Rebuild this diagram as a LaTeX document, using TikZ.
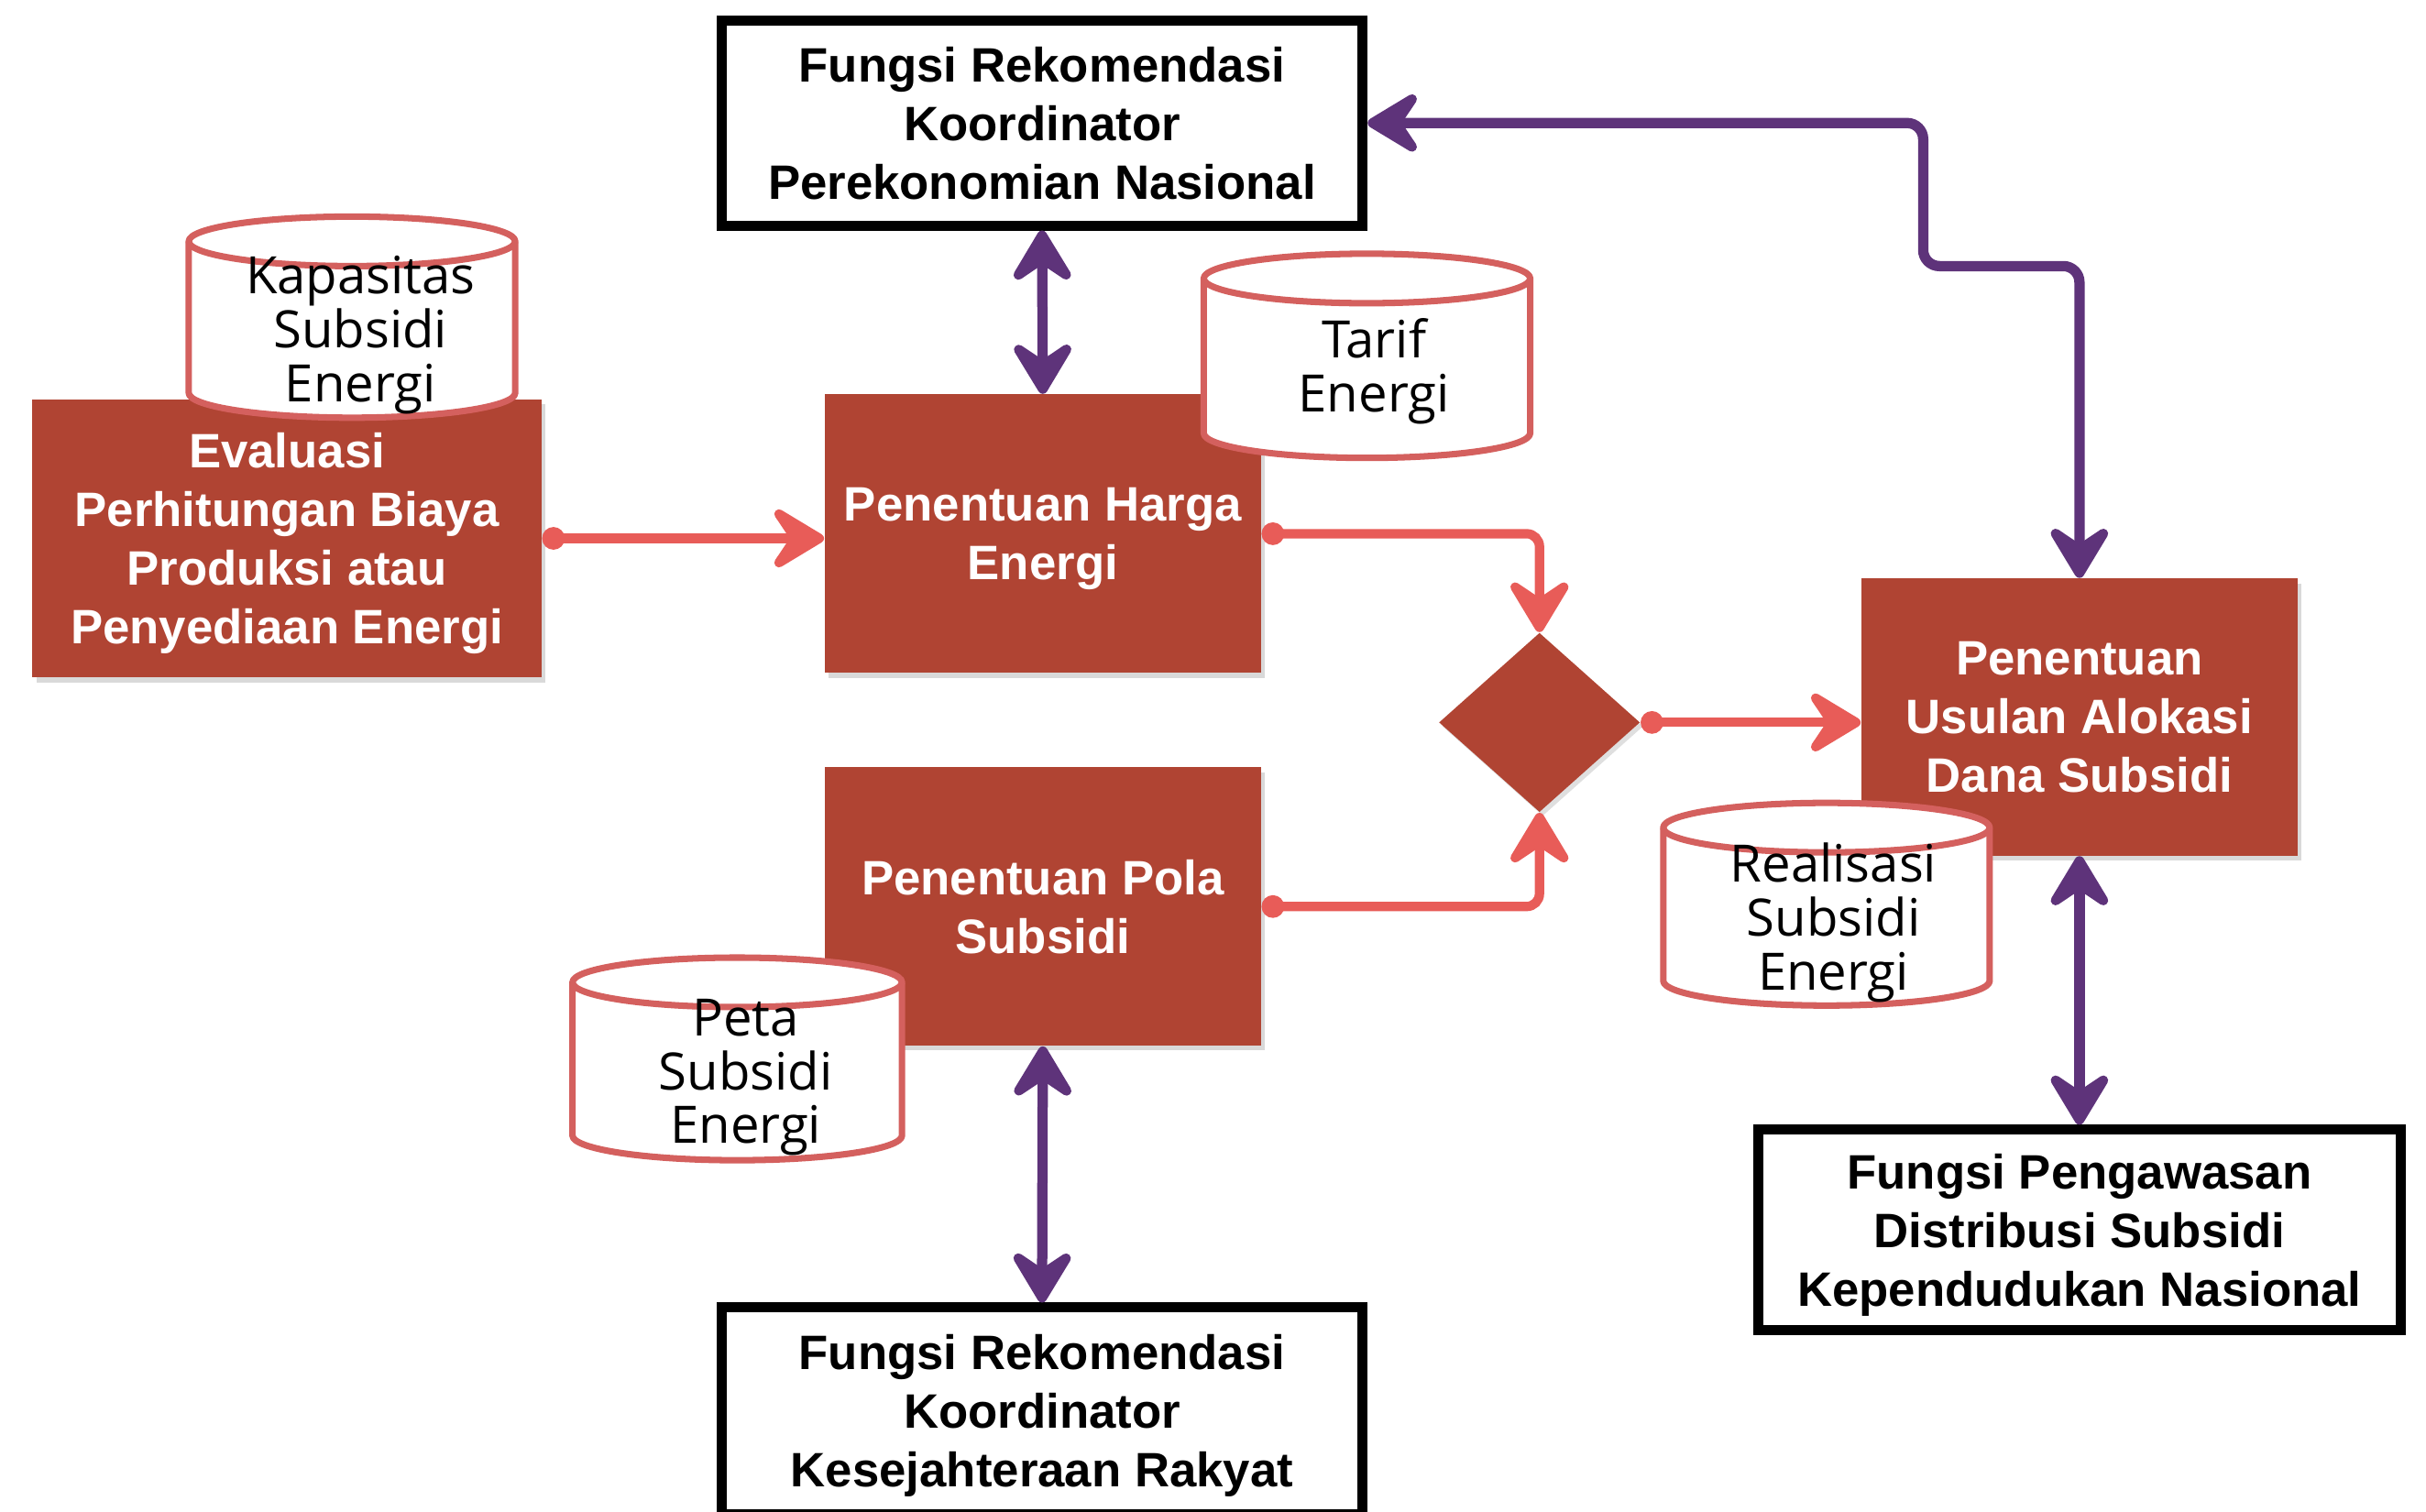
\documentclass[tikz,border=0pt]{standalone}
\usepackage{fontspec}
\newfontfamily\boxfont{Liberation Sans}
\newfontfamily\storefont{Open Sans}
\usetikzlibrary{arrows.meta,shapes.geometric,shadows}

\newdimen\pxu
\pxu=0.01688cm

\definecolor{brick}{RGB}{176,68,51}
\definecolor{storeline}{RGB}{212,96,94}
\definecolor{flowred}{RGB}{232,92,88}
\definecolor{flowpurple}{RGB}{94,51,122}

\tikzset{
  boxsize/.style 2 args={minimum width=#1*\pxu, minimum height=#2*\pxu},
  procbox/.style={rectangle, fill=brick, text=white, inner sep=0pt, align=center,
    text depth=-1pt,
    font=\boxfont\bfseries\fontsize{15}{18.2}\selectfont,
    drop shadow={shadow xshift=1.2pt, shadow yshift=-1.5pt, opacity=0.3}},
  funcbox/.style={rectangle, draw=black, fill=white, line width=3.1pt, inner sep=0pt,
    align=center, text=black, text depth=-1pt,
    font=\boxfont\bfseries\fontsize{15}{18.2}\selectfont,
    drop shadow={shadow xshift=1.2pt, shadow yshift=-1.5pt, opacity=0.3}},
  decision/.style={diamond, fill=brick, inner sep=0pt,
    drop shadow={shadow xshift=1pt, shadow yshift=-1.2pt, opacity=0.25}},
  storeshape/.style={draw=storeline, fill=white, line width=2pt, line join=round},
  storetext/.style={inner sep=0pt, align=center, text=black, text depth=0pt,
    font=\storefont\fontsize{16}{16.7}\selectfont},
  handhead/.tip={Stealth[length=20pt, width=24pt, inset=8pt, round]},
  redflow/.style={draw=flowred, line width=2.9pt, line cap=round, rounded corners=4pt,
    {Circle[length=7pt]}-handhead},
  purpleflow/.style={draw=flowpurple, line width=3.2pt, line cap=round, rounded corners=5pt,
    handhead-handhead},
}

% data store cylinder: centre x, half width, top ellipse y, bottom ellipse y, ellipse half height
\newcommand\drawstore[5]{%
  \filldraw[storeshape] ({#1-#2},{-#3}) -- ({#1-#2},{-#4})
    arc[start angle=180, end angle=360, x radius=#2*\pxu, y radius=#5*\pxu]
    -- ({#1+#2},{-#3})
    arc[start angle=0, end angle=180, x radius=#2*\pxu, y radius=#5*\pxu] -- cycle;
  \draw[storeshape, fill=none] ({#1-#2},{-#3})
    arc[start angle=180, end angle=360, x radius=#2*\pxu, y radius=#5*\pxu];
}

\begin{document}
\begin{tikzpicture}[x=0.01688cm, y=0.01688cm]
\useasboundingbox (0,0) rectangle (1568,-977);

% process boxes
\node[procbox, boxsize={329}{180}] (eval) at (185.5,-348)
  {Evaluasi\\Perhitungan Biaya\\Produksi atau\\Penyediaan Energi};
\node[procbox, boxsize={282}{180}] (harga) at (674,-345)
  {Penentuan Harga\\Energi};
\node[procbox, boxsize={282}{180}] (pola) at (674,-586)
  {Penentuan Pola\\Subsidi};
\node[procbox, boxsize={282}{179}] (usul) at (1344,-463.5)
  {Penentuan\\Usulan Alokasi\\Dana Subsidi};
\node[decision, boxsize={130}{116}] (dia) at (995,-467) {};

% function boxes
\node[funcbox, boxsize={414.5}{132.5}] (kpn) at (673.5,-79.5)
  {Fungsi Rekomendasi\\Koordinator\\Perekonomian Nasional};
\node[funcbox, boxsize={414.5}{133.5}] (kkr) at (673.5,-912)
  {Fungsi Rekomendasi\\Koordinator\\Kesejahteraan Rakyat};
\node[funcbox, boxsize={415.5}{129.5}] (watch) at (1344,-795)
  {Fungsi Pengawasan\\Distribusi Subsidi\\Kependudukan Nasional};

% data stores
\drawstore{227.5}{105.5}{156}{254}{16}
\node[storetext] (kapasitas) at (233,-212.5) {Kapasitas\\Subsidi\\Energi};
\drawstore{883.5}{105.5}{180}{280}{16}
\node[storetext] (tarif) at (888,-236) {Tarif\\Energi};
\drawstore{476.5}{106.5}{635}{734}{16}
\node[storetext] (peta) at (482,-692.5) {Peta\\Subsidi\\Energi};
\drawstore{1180.5}{105.5}{535}{634}{16}
\node[storetext] (realisasi) at (1185,-592.5) {Realisasi\\Subsidi\\Energi};

% red flows
\draw[redflow] (eval.east) -- (eval.east -| harga.west);
\draw[redflow] (harga.east) -| (dia.north);
\draw[redflow] (pola.east) -| (dia.south);
\draw[redflow] (dia.east) -- (dia.east -| usul.west);

% purple two-way links
\draw[purpleflow] (kpn.south) -- (harga.north);
\draw[purpleflow] (pola.south) -- (kkr.north);
\draw[purpleflow] (usul.south) -- (watch.north);
\coordinate (jog) at (1243,-172);
\draw[purpleflow] (kpn.east) -| (jog) -| (usul.north);
\end{tikzpicture}
\end{document}
